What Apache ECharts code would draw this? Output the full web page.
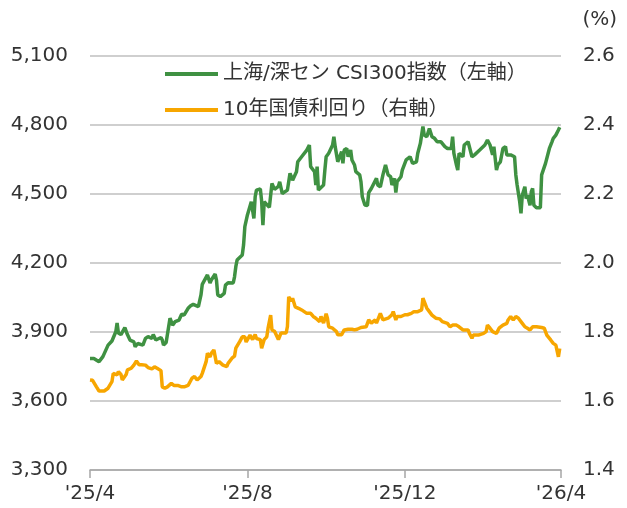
<!DOCTYPE html>
<html>
<head>
<meta charset="utf-8">
<script src="https://cdn.jsdelivr.net/npm/echarts@6/dist/echarts.min.js"></script>
<style>
  html, body { margin: 0; padding: 0; background: #fff; }
  #chart { width: 627px; height: 508px; }
</style>
</head>
<body>
<div id="chart"></div>
<script>
// 上海/深セン CSI300指数（左軸）
const csiDates = [
  '2025-04-01','2025-04-04','2025-04-08','2025-04-11','2025-04-15','2025-04-18','2025-04-21','2025-04-22','2025-04-23','2025-04-25',
  '2025-04-28','2025-04-30','2025-05-02','2025-05-05','2025-05-06','2025-05-08','2025-05-12','2025-05-14','2025-05-16','2025-05-19',
  '2025-05-20','2025-05-22','2025-05-26','2025-05-27','2025-05-28','2025-05-30','2025-06-02','2025-06-04','2025-06-06','2025-06-09',
  '2025-06-11','2025-06-13','2025-06-16','2025-06-18','2025-06-20','2025-06-24','2025-06-26','2025-06-27','2025-07-01','2025-07-03',
  '2025-07-04','2025-07-07','2025-07-08','2025-07-09','2025-07-11','2025-07-14','2025-07-15','2025-07-17','2025-07-21','2025-07-22',
  '2025-07-23','2025-07-24','2025-07-28','2025-07-29','2025-07-30','2025-08-01','2025-08-04','2025-08-05','2025-08-06','2025-08-07',
  '2025-08-08','2025-08-11','2025-08-12','2025-08-13','2025-08-14','2025-08-15','2025-08-18','2025-08-20','2025-08-22','2025-08-25',
  '2025-08-26','2025-08-28','2025-09-01','2025-09-02','2025-09-03','2025-09-05','2025-09-08','2025-09-09','2025-09-12','2025-09-16',
  '2025-09-18','2025-09-19','2025-09-22','2025-09-23','2025-09-24','2025-09-25','2025-09-26','2025-09-29','2025-09-30','2025-10-01',
  '2025-10-03','2025-10-06','2025-10-07','2025-10-08','2025-10-10','2025-10-11','2025-10-13','2025-10-14','2025-10-15','2025-10-17',
  '2025-10-18','2025-10-20','2025-10-21','2025-10-23','2025-10-24','2025-10-27','2025-10-28','2025-10-29','2025-10-31','2025-11-02',
  '2025-11-03','2025-11-05','2025-11-06','2025-11-09','2025-11-10','2025-11-12','2025-11-14','2025-11-16','2025-11-18','2025-11-20',
  '2025-11-21','2025-11-23','2025-11-24','2025-11-25','2025-11-28','2025-11-29','2025-12-02','2025-12-05','2025-12-07','2025-12-10',
  '2025-12-11','2025-12-13','2025-12-15','2025-12-16','2025-12-18','2025-12-20','2025-12-22','2025-12-24','2025-12-26','2025-12-29',
  '2026-01-01','2026-01-03','2026-01-06','2026-01-07','2026-01-08','2026-01-10','2026-01-11','2026-01-12','2026-01-15','2026-01-16',
  '2026-01-19','2026-01-20','2026-01-22','2026-01-24','2026-01-28','2026-02-01','2026-02-03','2026-02-05','2026-02-07','2026-02-08',
  '2026-02-10','2026-02-11','2026-02-13','2026-02-15','2026-02-17','2026-02-18','2026-02-21','2026-02-24','2026-02-25','2026-02-26',
  '2026-02-28','2026-03-01','2026-03-02','2026-03-04','2026-03-05','2026-03-06','2026-03-08','2026-03-09','2026-03-10','2026-03-11',
  '2026-03-13','2026-03-16','2026-03-17','2026-03-18','2026-03-20','2026-03-21','2026-03-23','2026-03-25','2026-03-26','2026-03-28',
  '2026-03-30','2026-03-31'
];
const csiValues = [
  3785,3785,3771,3793,3843,3861,3901,3939,3896,3889,
  3919,3889,3865,3857,3836,3850,3843,3872,3880,3872,
  3889,3865,3876,3865,3843,3854,3960,3930,3945,3952,
  3977,3974,4003,4014,4020,4010,4061,4107,4148,4113,
  4126,4152,4126,4061,4054,4068,4104,4114,4113,4140,
  4184,4213,4235,4278,4358,4409,4466,4470,4394,4488,
  4517,4522,4470,4365,4466,4466,4442,4546,4520,4533,
  4553,4502,4517,4524,4590,4560,4597,4640,4662,4691,
  4713,4619,4597,4539,4619,4517,4524,4539,4604,4662,
  4677,4713,4749,4706,4640,4633,4684,4633,4691,4698,
  4662,4691,4648,4626,4597,4583,4553,4488,4452,4450,
  4506,4524,4517,4568,4539,4531,4583,4626,4583,4575,
  4539,4568,4506,4553,4575,4604,4648,4662,4633,4640,
  4677,4720,4793,4756,4749,4785,4749,4742,4727,4727,
  4706,4698,4698,4749,4677,4626,4604,4677,4662,4713,
  4727,4727,4662,4670,4691,4713,4735,4713,4670,4706,
  4604,4626,4640,4698,4706,4670,4670,4662,4583,4539,
  4466,4416,4495,4532,4480,4495,4451,4510,4524,4451,
  4440,4440,4583,4590,4633,4640,4698,4727,4742,4756,
  4778,4790
];

// 10年国債利回り（右軸）
const yieldDates = [
  '2025-04-01','2025-04-03','2025-04-06','2025-04-08','2025-04-12','2025-04-15','2025-04-18','2025-04-19','2025-04-22','2025-04-23',
  '2025-04-25','2025-04-26','2025-04-29','2025-04-30','2025-05-03','2025-05-05','2025-05-07','2025-05-09','2025-05-11','2025-05-14',
  '2025-05-16','2025-05-19','2025-05-21','2025-05-23','2025-05-26','2025-05-27','2025-05-29','2025-05-31','2025-06-03','2025-06-05',
  '2025-06-08','2025-06-11','2025-06-13','2025-06-16','2025-06-19','2025-06-21','2025-06-23','2025-06-26','2025-06-27','2025-06-30',
  '2025-07-01','2025-07-03','2025-07-04','2025-07-06','2025-07-08','2025-07-10','2025-07-13','2025-07-16','2025-07-17','2025-07-20',
  '2025-07-22','2025-07-23','2025-07-26','2025-07-28','2025-07-30','2025-07-31','2025-08-03','2025-08-05','2025-08-07','2025-08-08',
  '2025-08-11','2025-08-12','2025-08-14','2025-08-16','2025-08-17','2025-08-19','2025-08-20','2025-08-22','2025-08-23','2025-08-25',
  '2025-08-27','2025-08-28','2025-08-31','2025-09-01','2025-09-02','2025-09-04','2025-09-05','2025-09-07','2025-09-10','2025-09-12',
  '2025-09-16','2025-09-19','2025-09-21','2025-09-23','2025-09-26','2025-09-27','2025-09-29','2025-10-01','2025-10-02','2025-10-03',
  '2025-10-06','2025-10-09','2025-10-10','2025-10-13','2025-10-15','2025-10-18','2025-10-21','2025-10-23','2025-10-25','2025-10-28',
  '2025-11-01','2025-11-03','2025-11-05','2025-11-08','2025-11-09','2025-11-12','2025-11-14','2025-11-15','2025-11-18','2025-11-21',
  '2025-11-22','2025-11-24','2025-11-25','2025-11-28','2025-12-01','2025-12-03','2025-12-06','2025-12-08','2025-12-11','2025-12-14',
  '2025-12-15','2025-12-18','2025-12-20','2025-12-22','2025-12-25','2025-12-28','2025-12-30','2026-01-03','2026-01-05','2026-01-07',
  '2026-01-10','2026-01-12','2026-01-15','2026-01-19','2026-01-20','2026-01-22','2026-01-23','2026-01-27','2026-01-31','2026-02-02',
  '2026-02-03','2026-02-05','2026-02-07','2026-02-10','2026-02-12','2026-02-15','2026-02-18','2026-02-19','2026-02-21','2026-02-23',
  '2026-02-25','2026-02-27','2026-03-02','2026-03-04','2026-03-06','2026-03-08','2026-03-10','2026-03-13','2026-03-17','2026-03-19',
  '2026-03-21','2026-03-24','2026-03-26','2026-03-28','2026-03-29','2026-03-30','2026-03-31'
];
const yieldValues = [
  1.661,1.660,1.641,1.629,1.629,1.637,1.656,1.680,1.676,1.685,
  1.677,1.661,1.677,1.690,1.695,1.704,1.716,1.705,1.705,1.704,
  1.697,1.693,1.699,1.695,1.688,1.641,1.637,1.641,1.651,1.645,
  1.645,1.641,1.641,1.645,1.666,1.671,1.661,1.671,1.680,1.714,
  1.738,1.728,1.738,1.748,1.709,1.714,1.704,1.700,1.709,1.724,
  1.730,1.753,1.772,1.786,1.786,1.771,1.791,1.778,1.793,1.781,
  1.778,1.753,1.778,1.786,1.811,1.849,1.806,1.802,1.802,1.778,
  1.797,1.797,1.797,1.816,1.902,1.890,1.898,1.873,1.868,1.864,
  1.854,1.854,1.845,1.840,1.830,1.845,1.826,1.853,1.840,1.815,
  1.811,1.801,1.792,1.792,1.806,1.808,1.808,1.806,1.808,1.813,
  1.815,1.835,1.826,1.835,1.826,1.854,1.835,1.837,1.840,1.850,
  1.859,1.835,1.845,1.845,1.850,1.850,1.854,1.859,1.859,1.864,
  1.898,1.869,1.859,1.849,1.840,1.838,1.830,1.825,1.815,1.820,
  1.820,1.815,1.806,1.806,1.796,1.782,1.791,1.791,1.796,1.801,
  1.820,1.811,1.801,1.796,1.811,1.820,1.825,1.835,1.845,1.835,
  1.845,1.840,1.825,1.815,1.811,1.806,1.815,1.815,1.813,1.811,
  1.791,1.777,1.767,1.762,1.757,1.728,1.752
];

const xTickDates = ['2025-04-01', '2025-08-01', '2025-12-01', '2026-04-01'];

const chart = echarts.init(document.getElementById('chart'));
const font = "'DejaVu Sans', 'Noto Sans CJK JP', sans-serif";
const toTime = d => +new Date(d + 'T00:00:00');
const tickTimes = xTickDates.map(toTime);

const option = {
  animation: false,
  textStyle: { fontFamily: font },
  title: {
    text: '(%)',
    right: 5,
    top: 5,
    textStyle: { fontFamily: font, fontSize: 20, fontWeight: 'normal', color: '#333' }
  },
  grid: { left: 90, right: 66, top: 56, bottom: 38 },
  legend: {
    orient: 'vertical',
    left: 160,
    top: 57,
    icon: 'rect',
    itemWidth: 53,
    itemHeight: 4,
    itemGap: 12,
    textStyle: { fontFamily: font, fontSize: 20, color: '#333', lineHeight: 24 },
    data: ['上海/深セン CSI300指数（左軸）', '10年国債利回り（右軸）']
  },
  xAxis: {
    type: 'value',
    min: tickTimes[0],
    max: tickTimes[tickTimes.length - 1],
    axisLine: { lineStyle: { color: '#a6a6a6', width: 1.5 } },
    axisTick: { show: true, length: 8, customValues: tickTimes, lineStyle: { color: '#a6a6a6', width: 1.5 } },
    splitLine: { show: false },
    axisLabel: {
      customValues: tickTimes,
      fontSize: 20,
      color: '#333',
      margin: 14,
      fontFamily: font,
      formatter: function (v) {
        const d = new Date(v);
        return "'" + String(d.getFullYear()).slice(2) + '/' + (d.getMonth() + 1);
      }
    }
  },
  yAxis: [
    {
      type: 'value',
      min: 3300,
      max: 5100,
      interval: 300,
      axisLine: { show: false },
      axisTick: { show: false },
      splitLine: { lineStyle: { color: '#bfbfbf', width: 1.5 } },
      axisLabel: {
        fontSize: 20,
        color: '#333',
        margin: 22,
        fontFamily: font,
        formatter: v => v.toLocaleString('en-US')
      }
    },
    {
      type: 'value',
      min: 1.4,
      max: 2.6,
      interval: 0.2,
      axisLine: { show: false },
      axisTick: { show: false },
      splitLine: { show: false },
      axisLabel: {
        fontSize: 20,
        color: '#333',
        margin: 22,
        fontFamily: font,
        formatter: v => v.toFixed(1)
      }
    }
  ],
  series: [
    {
      name: '上海/深セン CSI300指数（左軸）',
      type: 'line',
      yAxisIndex: 0,
      symbol: 'none',
      itemStyle: { color: '#3f9142' },
      lineStyle: { color: '#3f9142', width: 3.5 },
      data: csiDates.map((d, i) => [toTime(d), csiValues[i]])
    },
    {
      name: '10年国債利回り（右軸）',
      type: 'line',
      yAxisIndex: 1,
      symbol: 'none',
      itemStyle: { color: '#f7a600' },
      lineStyle: { color: '#f7a600', width: 3.5 },
      data: yieldDates.map((d, i) => [toTime(d), yieldValues[i]])
    }
  ]
};

chart.setOption(option);
</script>
</body>
</html>
